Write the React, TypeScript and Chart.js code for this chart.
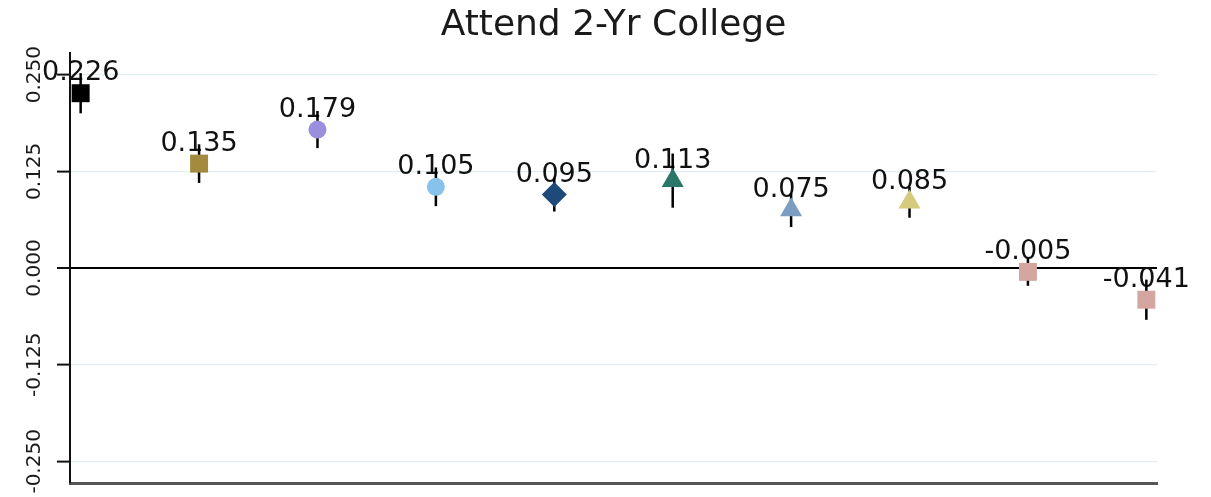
import React, { useEffect, useRef } from "react";
import { Chart, registerables } from "chart.js";

Chart.register(...registerables);

const TITLE = "Attend 2-Yr College";
const positions = [0, 1, 2, 3, 4, 5, 6, 7, 8, 9];
const estimates = [0.226, 0.135, 0.179, 0.105, 0.095, 0.113, 0.075, 0.085, -0.005, -0.041];
const errors = [0.026, 0.025, 0.024, 0.025, 0.022, 0.035, 0.022, 0.02, 0.018, 0.026];
const pointLabels = ["0.226", "0.135", "0.179", "0.105", "0.095", "0.113", "0.075", "0.085", "-0.005", "-0.041"];
const markerColors = ["#000000", "#a48a3e", "#9a8fdc", "#86c2ec", "#1d4a7a", "#2a7667", "#7c9cc1", "#d6ca7d", "#d4a6a0", "#d4a6a0"];
const markerShapes = ["rect", "rect", "circle", "circle", "rectRot", "triangle", "triangle", "triangle", "rect", "rect"];
const markerRadii = [12.7, 12.7, 9, 9, 12.5, 12.7, 12.7, 12.7, 12.7, 12.7];
const yTicks = [-0.25, -0.125, 0, 0.125, 0.25];
const yTickLabels = ["-0.250", "-0.125", "0.000", "0.125", "0.250"];

const FONT = "'DejaVu Sans', sans-serif";

const annotatePlugin = {
  id: "annotate",
  beforeDatasetsDraw(chart: any) {
    const { ctx } = chart;
    const xs = chart.scales.x;
    const ys = chart.scales.y;
    ctx.save();
    // point labels
    ctx.fillStyle = "#111";
    ctx.font = `27px ${FONT}`;
    ctx.textAlign = "center";
    ctx.textBaseline = "middle";
    positions.forEach((p, i) => {
      const px = xs.getPixelForValue(p);
      const py = ys.getPixelForValue(estimates[i]);
      ctx.fillText(pointLabels[i], px, py - 20);
    });
    // error bars
    ctx.strokeStyle = "#000";
    ctx.lineWidth = 2.5;
    positions.forEach((p, i) => {
      const px = xs.getPixelForValue(p);
      ctx.beginPath();
      ctx.moveTo(px, ys.getPixelForValue(estimates[i] + errors[i]));
      ctx.lineTo(px, ys.getPixelForValue(estimates[i] - errors[i]));
      ctx.stroke();
    });
    ctx.restore();
  },
  afterDraw(chart: any) {
    const { ctx, chartArea } = chart;
    const ys = chart.scales.y;
    ctx.save();
    // title
    ctx.fillStyle = "#1a1a1a";
    ctx.font = `36px ${FONT}`;
    ctx.textAlign = "center";
    ctx.textBaseline = "middle";
    ctx.fillText(TITLE, (chartArea.left + chartArea.right) / 2, 26);
    // rotated y tick labels
    ctx.font = `20px ${FONT}`;
    ctx.fillStyle = "#1a1a1a";
    yTicks.forEach((v, i) => {
      const py = ys.getPixelForValue(v);
      ctx.save();
      ctx.translate(35, py);
      ctx.rotate(-Math.PI / 2);
      ctx.fillText(yTickLabels[i], 0, 0);
      ctx.restore();
    });
    ctx.restore();
  },
};

export default function App() {
  const canvasRef = useRef<HTMLCanvasElement | null>(null);

  useEffect(() => {
    if (!canvasRef.current) return;
    const chart = new Chart(canvasRef.current, {
      type: "scatter",
      data: {
        datasets: [
          {
            data: positions.map((p, i) => ({ x: p, y: estimates[i] })),
            pointStyle: markerShapes as any,
            pointRadius: markerRadii,
            pointHoverRadius: markerRadii,
            backgroundColor: markerColors,
            borderColor: markerColors,
            borderWidth: 0,
          },
        ],
      },
      options: {
        responsive: false,
        animation: false,
        events: [],
        layout: { padding: { top: 53, right: 54, left: 0, bottom: 0 } },
        plugins: {
          legend: { display: false },
          title: { display: false },
          tooltip: { enabled: false },
        },
        scales: {
          x: {
            type: "linear",
            min: -0.09,
            max: 9.09,
            grid: { display: false },
            ticks: { display: false },
            border: { display: true, color: "#555", width: 3 },
            afterFit(scale: any) {
              scale.height = 14;
            },
          },
          y: {
            type: "linear",
            min: -0.278,
            max: 0.278,
            afterBuildTicks(scale: any) {
              scale.ticks = yTicks.map((v) => ({ value: v }));
            },
            ticks: { display: false },
            grid: {
              color: (c: any) => (c.tick && c.tick.value === 0 ? "#000" : "#e3eef2"),
              lineWidth: (c: any) => (c.tick && c.tick.value === 0 ? 2 : 1.2),
              tickColor: "#111",
              tickLength: 13,
              tickWidth: 2,
              drawTicks: true,
            },
            border: { display: true, color: "#111", width: 2 },
            afterFit(scale: any) {
              scale.width = 70;
            },
          },
        },
      },
      plugins: [annotatePlugin],
    });
    return () => chart.destroy();
  }, []);

  return (
    <div style={{ position: "absolute", left: 0, top: 0, width: 1211, height: 497, background: "#fff" }}>
      <canvas ref={canvasRef} width={1211} height={497} style={{ display: "block", width: 1211, height: 497 }} />
    </div>
  );
}
